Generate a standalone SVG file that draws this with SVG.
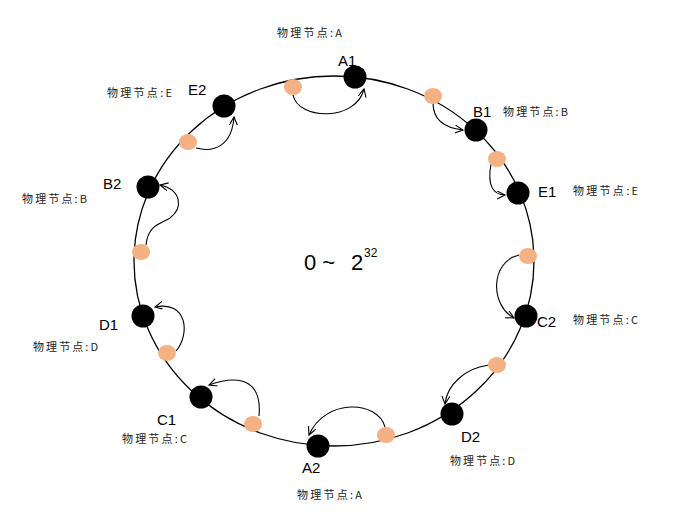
<svg xmlns="http://www.w3.org/2000/svg" width="700" height="522" viewBox="0 0 700 522">
<style>
.ring{fill:none;stroke:#000;stroke-width:1.3}
.vn{fill:#000}
.tn{fill:#F4B183}
.lbl{font-family:"Liberation Sans","Open Sans",sans-serif;font-size:15px;fill:#000}
.phy{font-family:"Noto Sans CJK SC","Liberation Mono",monospace;font-size:11px;fill:#222}
.arr{fill:none;stroke:#000;stroke-width:1.1;marker-end:url(#ah)}
.ctr{font-family:"Liberation Sans","Open Sans",sans-serif;fill:#000}
</style>
<defs>
<marker id="ah" markerWidth="10" markerHeight="10" refX="8" refY="4" orient="auto" markerUnits="userSpaceOnUse">
<path d="M0,0 L8,4 L0,8" fill="none" stroke="#000" stroke-width="1.1"/>
</marker>
</defs>
<rect width="700" height="522" fill="#fff"/>
<ellipse class="ring" cx="334" cy="261" rx="200" ry="185"/>
<g id="connectors">
<path class="arr" d="M293,95 C298,120 356,122 364,89"/>
<path class="arr" d="M196,148 C215,153 232,145 234,117"/>
<path class="arr" d="M146,245 C148,225 160,224 170,218 C183,208 182,190 160,185"/>
<path class="arr" d="M176,351 C190,335 188,300 155,307"/>
<path class="arr" d="M259,416 C262,385 245,372 209,385"/>
<path class="arr" d="M385,427 C378,400 325,398 309,435"/>
<path class="arr" d="M489,365 C465,368 447,385 445,404"/>
<path class="arr" d="M519,255 C490,262 490,305 514,318"/>
<path class="arr" d="M491,164 C487,185 493,195 505,195"/>
<path class="arr" d="M433,103 C433,120 445,128 463,130"/>
</g>
<g id="tan-nodes">
<ellipse id="t1" class="tn" cx="293" cy="87" rx="9" ry="8"/>
<ellipse id="t2" class="tn" cx="188" cy="142" rx="9" ry="8"/>
<ellipse id="t3" class="tn" cx="141" cy="252" rx="9" ry="8"/>
<ellipse id="t4" class="tn" cx="167" cy="353" rx="9" ry="8"/>
<ellipse id="t5" class="tn" cx="253" cy="424" rx="9" ry="8"/>
<ellipse id="t6" class="tn" cx="386" cy="435" rx="9" ry="8"/>
<ellipse id="t7" class="tn" cx="497" cy="365" rx="9" ry="8"/>
<ellipse id="t8" class="tn" cx="528" cy="256" rx="9" ry="8"/>
<ellipse id="t9" class="tn" cx="497" cy="159" rx="9" ry="8"/>
<ellipse id="t10" class="tn" cx="433" cy="96" rx="9" ry="8"/>
</g>
<g id="A1"><circle class="vn" cx="355" cy="77" r="11.5"/><text class="lbl" x="338" y="66">A1</text><text class="phy" x="277" y="37" textLength="65">物理节点:A</text></g>
<g id="E2"><circle class="vn" cx="224" cy="106" r="11.5"/><text class="lbl" x="188" y="95">E2</text><text class="phy" x="107" y="97" textLength="65">物理节点:E</text></g>
<g id="B2"><circle class="vn" cx="148" cy="187" r="11.5"/><text class="lbl" x="103" y="189">B2</text><text class="phy" x="22" y="203" textLength="65">物理节点:B</text></g>
<g id="D1"><circle class="vn" cx="143" cy="316" r="11.5"/><text class="lbl" x="99" y="330">D1</text><text class="phy" x="33" y="351" textLength="65">物理节点:D</text></g>
<g id="C1"><circle class="vn" cx="201" cy="397" r="11.5"/><text class="lbl" x="157" y="425">C1</text><text class="phy" x="122" y="443" textLength="65">物理节点:C</text></g>
<g id="A2"><circle class="vn" cx="318" cy="446" r="11.5"/><text class="lbl" x="302" y="473">A2</text><text class="phy" x="297" y="499" textLength="65">物理节点:A</text></g>
<g id="D2"><circle class="vn" cx="452" cy="414" r="11.5"/><text class="lbl" x="461" y="442">D2</text><text class="phy" x="450" y="465" textLength="65">物理节点:D</text></g>
<g id="C2"><circle class="vn" cx="526" cy="316" r="11.5"/><text class="lbl" x="537" y="327">C2</text><text class="phy" x="573" y="324" textLength="65">物理节点:C</text></g>
<g id="E1"><circle class="vn" cx="518" cy="193" r="11.5"/><text class="lbl" x="538" y="197">E1</text><text class="phy" x="573" y="195" textLength="65">物理节点:E</text></g>
<g id="B1"><circle class="vn" cx="476" cy="130" r="11.5"/><text class="lbl" x="473" y="117">B1</text><text class="phy" x="503" y="116" textLength="65">物理节点:B</text></g>
<g id="range">
<text class="ctr" x="304" y="270" font-size="22">0 ~</text>
<text class="ctr" x="351" y="270" font-size="22">2</text>
<text class="ctr" x="364" y="257" font-size="12">32</text>
</g>
</svg>
